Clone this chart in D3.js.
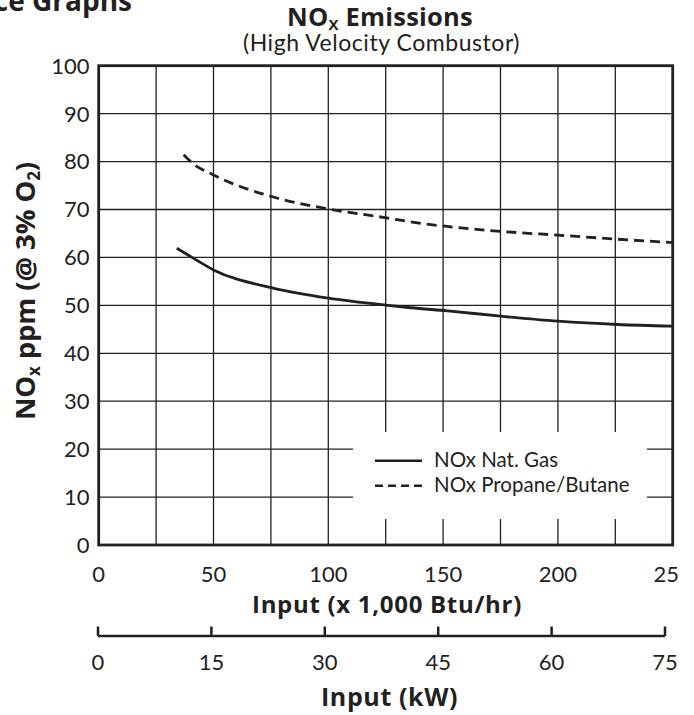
<!DOCTYPE html>
<html>
<head>
<meta charset="utf-8">
<script src="https://cdn.jsdelivr.net/npm/d3@7/dist/d3.min.js"></script>
<style>
  html, body { margin: 0; padding: 0; background: #fff; }
  svg { display: block; font-family: Lato, "Open Sans", sans-serif; }
  .b { font-family: "Open Sans", Lato, sans-serif; font-weight: 700; }
</style>
</head>
<body>
<svg id="chart" width="694" height="715"></svg>
<script>
// ---- Data ----
const btuTicks = [0, 50, 100, 150, 200, 250];
const btuGrid = [25, 50, 75, 100, 125, 150, 175, 200, 225];
const kwTicks = [0, 15, 30, 45, 60, 75];
const yTicks = [0, 10, 20, 30, 40, 50, 60, 70, 80, 90, 100];
const yGrid = [10, 20, 30, 40, 50, 60, 70, 80, 90];

const natGasX = [34, 41, 50, 76, 100, 126, 136, 152, 176, 200, 226, 250];
const natGasY = [61.9, 59.9, 57.4, 53.6, 51.5, 50.0, 49.5, 48.85, 47.7, 46.7, 46.0, 45.65];
const propaneX = [37, 41, 50, 76, 100, 126, 136, 152, 176, 200, 226, 250];
const propaneY = [81.4, 79.6, 77.2, 72.6, 70.1, 68.2, 67.4, 66.45, 65.4, 64.65, 63.8, 63.1];

const legendLabels = ["NOx Nat. Gas", "NOx Propane/Butane"];

// ---- Layout ----
const ink = "#231f20";
const svg = d3.select("#chart");
const pL = 98.7, pR = 672.7, pT = 65.7, pB = 545;

const x = d3.scaleLinear().domain([0, 250]).range([pL, pR]);
const y = d3.scaleLinear().domain([0, 100]).range([pB, pT]);
const xk = d3.scaleLinear().domain([0, 75]).range([98, 665]);

// stretch a text to a given width with letter spacing (the source face is wider)
function fit(sel, target) {
  const w = sel.node().getComputedTextLength();
  const n = sel.node().textContent.length;
  sel.attr("letter-spacing", ((target - w) / n).toFixed(2));
}

// cropped header text at top-left
svg.append("text").attr("class", "b").attr("x", 132).attr("y", 11).attr("text-anchor", "end")
  .attr("font-size", 28).attr("fill", ink)
  .text("Performance Graphs");

// title
const title = svg.append("text").attr("class", "b").attr("x", 380).attr("y", 25.5).attr("text-anchor", "middle")
  .attr("font-size", 25.5).attr("fill", ink);
title.append("tspan").text("NO");
title.append("tspan").attr("font-size", 15).attr("dy", 4).text("X");
title.append("tspan").attr("dy", -4).text(" Emissions");
fit(title, 186);

const sub = svg.append("text").attr("x", 381.5).attr("y", 50.5).attr("text-anchor", "middle")
  .attr("font-size", 23).attr("fill", ink).text("(High Velocity Combustor)");
fit(sub, 277);

// gridlines
const grid = svg.append("g").attr("stroke", ink).attr("stroke-width", 1.3);
grid.selectAll("line.v").data(btuGrid).join("line").attr("class", "v")
  .attr("x1", d => x(d)).attr("x2", d => x(d)).attr("y1", pT).attr("y2", pB);
grid.selectAll("line.h").data(yGrid).join("line").attr("class", "h")
  .attr("x1", pL).attr("x2", pR).attr("y1", d => y(d)).attr("y2", d => y(d));

// legend background (hides gridlines)
svg.append("rect").attr("x", 353).attr("y", 432).attr("width", 294).attr("height", 87).attr("fill", "#fff");

// border
svg.append("rect").attr("x", pL).attr("y", pT).attr("width", pR - pL).attr("height", pB - pT)
  .attr("fill", "none").attr("stroke", ink).attr("stroke-width", 2.8);

// curves
const line = d3.line().x(d => x(d[0])).y(d => y(d[1])).curve(d3.curveMonotoneX);
svg.append("path").datum(d3.zip(natGasX, natGasY)).attr("d", line)
  .attr("fill", "none").attr("stroke", ink).attr("stroke-width", 2.8);
svg.append("path").datum(d3.zip(propaneX, propaneY)).attr("d", line)
  .attr("fill", "none").attr("stroke", ink).attr("stroke-width", 2.8).attr("stroke-dasharray", "10,6");

// legend
const lg = svg.append("g");
lg.append("line").attr("x1", 375).attr("x2", 422).attr("y1", 460.7).attr("y2", 460.7)
  .attr("stroke", ink).attr("stroke-width", 2.5);
lg.append("line").attr("x1", 375).attr("x2", 422).attr("y1", 485.7).attr("y2", 485.7)
  .attr("stroke", ink).attr("stroke-width", 2.5).attr("stroke-dasharray", "8,5");
lg.selectAll("text").data(legendLabels).join("text")
  .attr("x", 434).attr("y", (d, i) => 467 + i * 24.7)
  .attr("font-size", 20.5).attr("fill", ink).text(d => d);

// y tick labels
svg.append("g").selectAll("text").data(yTicks).join("text")
  .attr("x", 89.5).attr("y", d => y(d)).attr("dy", "0.36em").attr("text-anchor", "end")
  .attr("font-size", 22).attr("fill", ink).text(d => d);

// y title
const yt = svg.append("text").attr("class", "b").attr("transform", "translate(35,291) rotate(-90)")
  .attr("text-anchor", "middle").attr("font-size", 27.5).attr("fill", ink);
yt.append("tspan").text("NO");
yt.append("tspan").attr("font-size", 17).attr("dy", 5).text("x");
yt.append("tspan").attr("dy", -5).text(" ppm (@ 3% O");
yt.append("tspan").attr("font-size", 17).attr("dy", 5).text("2");
yt.append("tspan").attr("dy", -5).text(")");
fit(yt, 258);

// x (Btu) tick labels, cropped at the right edge like the source image
svg.append("defs").append("clipPath").attr("id", "crop")
  .append("rect").attr("x", 0).attr("y", 0).attr("width", 679).attr("height", 715);
svg.append("g").attr("clip-path", "url(#crop)").selectAll("text").data(btuTicks).join("text")
  .attr("x", d => x(d)).attr("y", 581.5).attr("text-anchor", "middle")
  .attr("font-size", 22).attr("fill", ink).text(d => d);

const xt = svg.append("text").attr("class", "b").attr("x", 387).attr("y", 613).attr("text-anchor", "middle")
  .attr("font-size", 24).attr("fill", ink).text("Input (x 1,000 Btu/hr)");
fit(xt, 270);

// kW axis
const kw = svg.append("g").attr("stroke", ink).attr("stroke-width", 2.5);
kw.append("line").attr("x1", xk(0)).attr("x2", xk(75)).attr("y1", 636).attr("y2", 636);
kw.selectAll("line.t").data(kwTicks).join("line").attr("class", "t")
  .attr("x1", d => xk(d)).attr("x2", d => xk(d)).attr("y1", 636).attr("y2", 626.5);
svg.append("g").selectAll("text").data(kwTicks).join("text")
  .attr("x", d => xk(d)).attr("y", 670).attr("text-anchor", "middle")
  .attr("font-size", 22).attr("fill", ink).text(d => d);

const kt = svg.append("text").attr("class", "b").attr("x", 389.5).attr("y", 705.5).attr("text-anchor", "middle")
  .attr("font-size", 25).attr("fill", ink).text("Input (kW)");
fit(kt, 137);
</script>
</body>
</html>
